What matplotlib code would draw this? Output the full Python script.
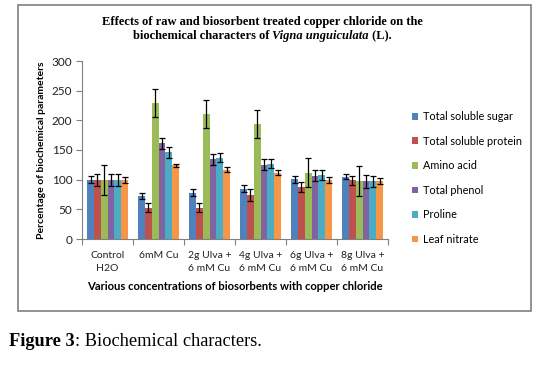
import matplotlib.pyplot as plt
import numpy as np
from matplotlib.patches import Rectangle

categories = ['Control\nH2O', '6mM Cu', '2g Ulva +\n6 mM Cu', '4g Ulva +\n6 mM Cu',
              '6g Ulva +\n6 mM Cu', '8g Ulva +\n6 mM Cu']
series = ['Total soluble sugar', 'Total soluble protein', 'Amino acid',
          'Total phenol', 'Proline', 'Leaf nitrate']
sugar = [100, 72, 78, 85, 101, 105]
protein = [100, 53, 53, 74, 88, 99]
amino = [100, 229, 211, 194, 112, 98]
phenol = [100, 161, 134, 125, 107, 97]
proline = [100, 146, 137, 127, 108, 97]
nitrate = [100, 124, 117, 112, 99, 98]
sugar_err = [6, 5, 6, 6, 6, 4]
protein_err = [10, 8, 8, 10, 8, 8]
amino_err = [25, 24, 24, 24, 25, 25]
phenol_err = [10, 10, 9, 9, 10, 11]
proline_err = [10, 9, 8, 8, 9, 10]
nitrate_err = [5, 3, 4, 4, 5, 5]

values = [sugar, protein, amino, phenol, proline, nitrate]
errors = [sugar_err, protein_err, amino_err, phenol_err, proline_err, nitrate_err]
colors = ['#4F81BD', '#C0504D', '#9BBB59', '#8064A2', '#4BACC6', '#F79646']

plt.rcParams['font.family'] = ['Lato', 'DejaVu Sans']

fig = plt.figure(figsize=(5.38, 3.79), dpi=100)
W, H = 538.0, 379.0

# border around chart area
fig.patches.append(Rectangle((18 / W, 1 - 311 / H), (531 - 18) / W, (311 - 5) / H,
                             transform=fig.transFigure, fill=False,
                             edgecolor='#7f7f7f', linewidth=1.2))

ax = fig.add_axes([82 / W, 1 - 239 / H, (388 - 82) / W, (239 - 61) / H])

x = np.arange(len(categories))
bw = 0.8 / 6
for i in range(6):
    pos = x - 0.4 + bw * (i + 0.5)
    ax.bar(pos, values[i], bw, color=colors[i], label=series[i],
           yerr=errors[i], error_kw=dict(ecolor='black', elinewidth=0.9, capsize=2.5, capthick=0.9))

ax.set_xlim(-0.5, 5.5)
ax.set_ylim(0, 300)
ax.set_yticks(range(0, 301, 50))
ax.set_xticks(np.arange(-0.5, 6, 1))
ax.set_xticklabels([])
ax.set_xticks(x, minor=True)
ax.set_xticklabels(categories, minor=True, fontsize=7.5, color='#222222', linespacing=1.45)
ax.tick_params(axis='x', which='minor', length=0, pad=9)
ax.tick_params(axis='x', which='major', length=4, color='#808080', direction='out')
ax.tick_params(axis='y', length=4, color='#808080', labelsize=8.5, labelcolor='#222222', pad=3)
for s in ['top', 'right']:
    ax.spines[s].set_visible(False)
for s in ['left', 'bottom']:
    ax.spines[s].set_color('#808080')

ax.set_ylabel('Percentage of biochemical parameters', fontsize=7.5, fontweight='bold', labelpad=4)
ax.set_xlabel('Various concentrations of biosorbents with copper chloride', fontsize=8.1,
              fontweight='bold', labelpad=6)

ax.legend(loc='center left', bbox_to_anchor=(402 / W, 1 - 178 / H), bbox_transform=fig.transFigure,
          frameon=False, fontsize=7.8, handlelength=0.6, handleheight=0.6, handletextpad=0.4,
          labelspacing=1.25)

# title
tfont = dict(family='Liberation Serif', fontsize=9, fontweight='bold')
fig.text(262 / W, 1 - 22 / H, 'Effects of raw and biosorbent treated copper chloride on the',
         ha='center', va='center', **tfont)
fig.canvas.draw()
r = fig.canvas.get_renderer()
parts = [('biochemical characters of ', 'normal'), ('Vigna unguiculata', 'italic'), (' (L).', 'normal')]
texts = []
for s, st in parts:
    texts.append(fig.text(0, 1 - 36 / H, s, ha='left', va='center', style=st, **tfont))
widths = [t.get_window_extent(r).width for t in texts]
xs = 262 - sum(widths) / 2
for t, w in zip(texts, widths):
    t.set_x(xs / W)
    xs += w

# caption
c1 = fig.text(9 / W, 1 - 342 / H, 'Figure 3', family='Liberation Serif', fontsize=13.2,
              fontweight='bold', va='center')
w1 = c1.get_window_extent(r).width
fig.text((9 + w1) / W, 1 - 342 / H, ': Biochemical characters.', family='Liberation Serif',
         fontsize=13.2, va='center')

fig.savefig('out.png', dpi=100)
